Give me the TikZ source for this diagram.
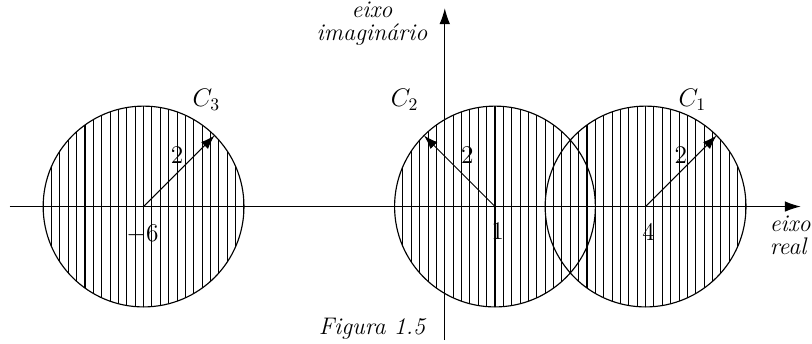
\documentclass[tikz,border=0pt]{standalone}
\usetikzlibrary{arrows.meta}
\begin{document}
\begin{tikzpicture}[x=1cm,y=1cm,
  every node/.style={font=\fontsize{13.6}{16}\selectfont, inner sep=0pt},
  lbl/.style={font=\fontsize{13.6}{16}\selectfont\itshape},
  axis/.style={line width=0.6pt,-{Latex[length=9pt,width=6pt]}},
  radarrow/.style={line width=0.55pt,-{Latex[length=8pt,width=5.5pt]}},
  hatch/.style={line width=0.6pt},
  rim/.style={line width=0.65pt}]
\useasboundingbox (-8.86,-2.719) rectangle (7.315,4.114);
\coordinate (c3) at (-6,0);
\coordinate (c2) at (1,0);
\coordinate (c1) at (4,0);
% hatched discs
\foreach \c in {c1,c2,c3}{
  \begin{scope}[shift={(\c)}]
    \clip (0,0) circle (2);
    \foreach \k in {-12,...,12}
      \draw[hatch] (\k/6,-2.1) -- (\k/6,2.1);
  \end{scope}
  \draw[rim] (\c) circle (2);
}
% axes
\coordinate (xl) at (-8.67,0);
\coordinate (xr) at (7.09,0);
\coordinate (yb) at (0,-2.66);
\coordinate (yt) at (0,3.95);
\draw[axis] (xl) -- (xr);
\draw[axis] (yb) -- (yt);
% radii
\draw[radarrow] (c3) -- ++(45:2);
\draw[radarrow] (c2) -- ++(135:2);
\draw[radarrow] (c1) -- ++(45:2);
% labels
\node[lbl, align=center] (lim) at (-1.45,3.64) {eixo\\[-3pt]imaginário};
\node[lbl, align=left, anchor=west] (lre) at (6.47,-0.57) {eixo\\[-3pt]real};
\node[lbl] (fig) at (-1.45,-2.44) {Figura 1.5};
\node (lc3) at (-4.75,2.12) {$C_3$};
\node (lc2) at (-0.80,2.12) {$C_2$};
\node (lc1) at (4.93,2.12) {$C_1$};
\node (r3) at (-5.33,1.03) {$2$};
\node (r2) at (0.45,1.02) {$2$};
\node (r1) at (4.70,1.03) {$2$};
\node (n6) at (-6.02,-0.56) {$-6$};
\node (n1) at (1.05,-0.50) {$1$};
\node (n4) at (4.06,-0.52) {$4$};
\end{tikzpicture}
\end{document}
